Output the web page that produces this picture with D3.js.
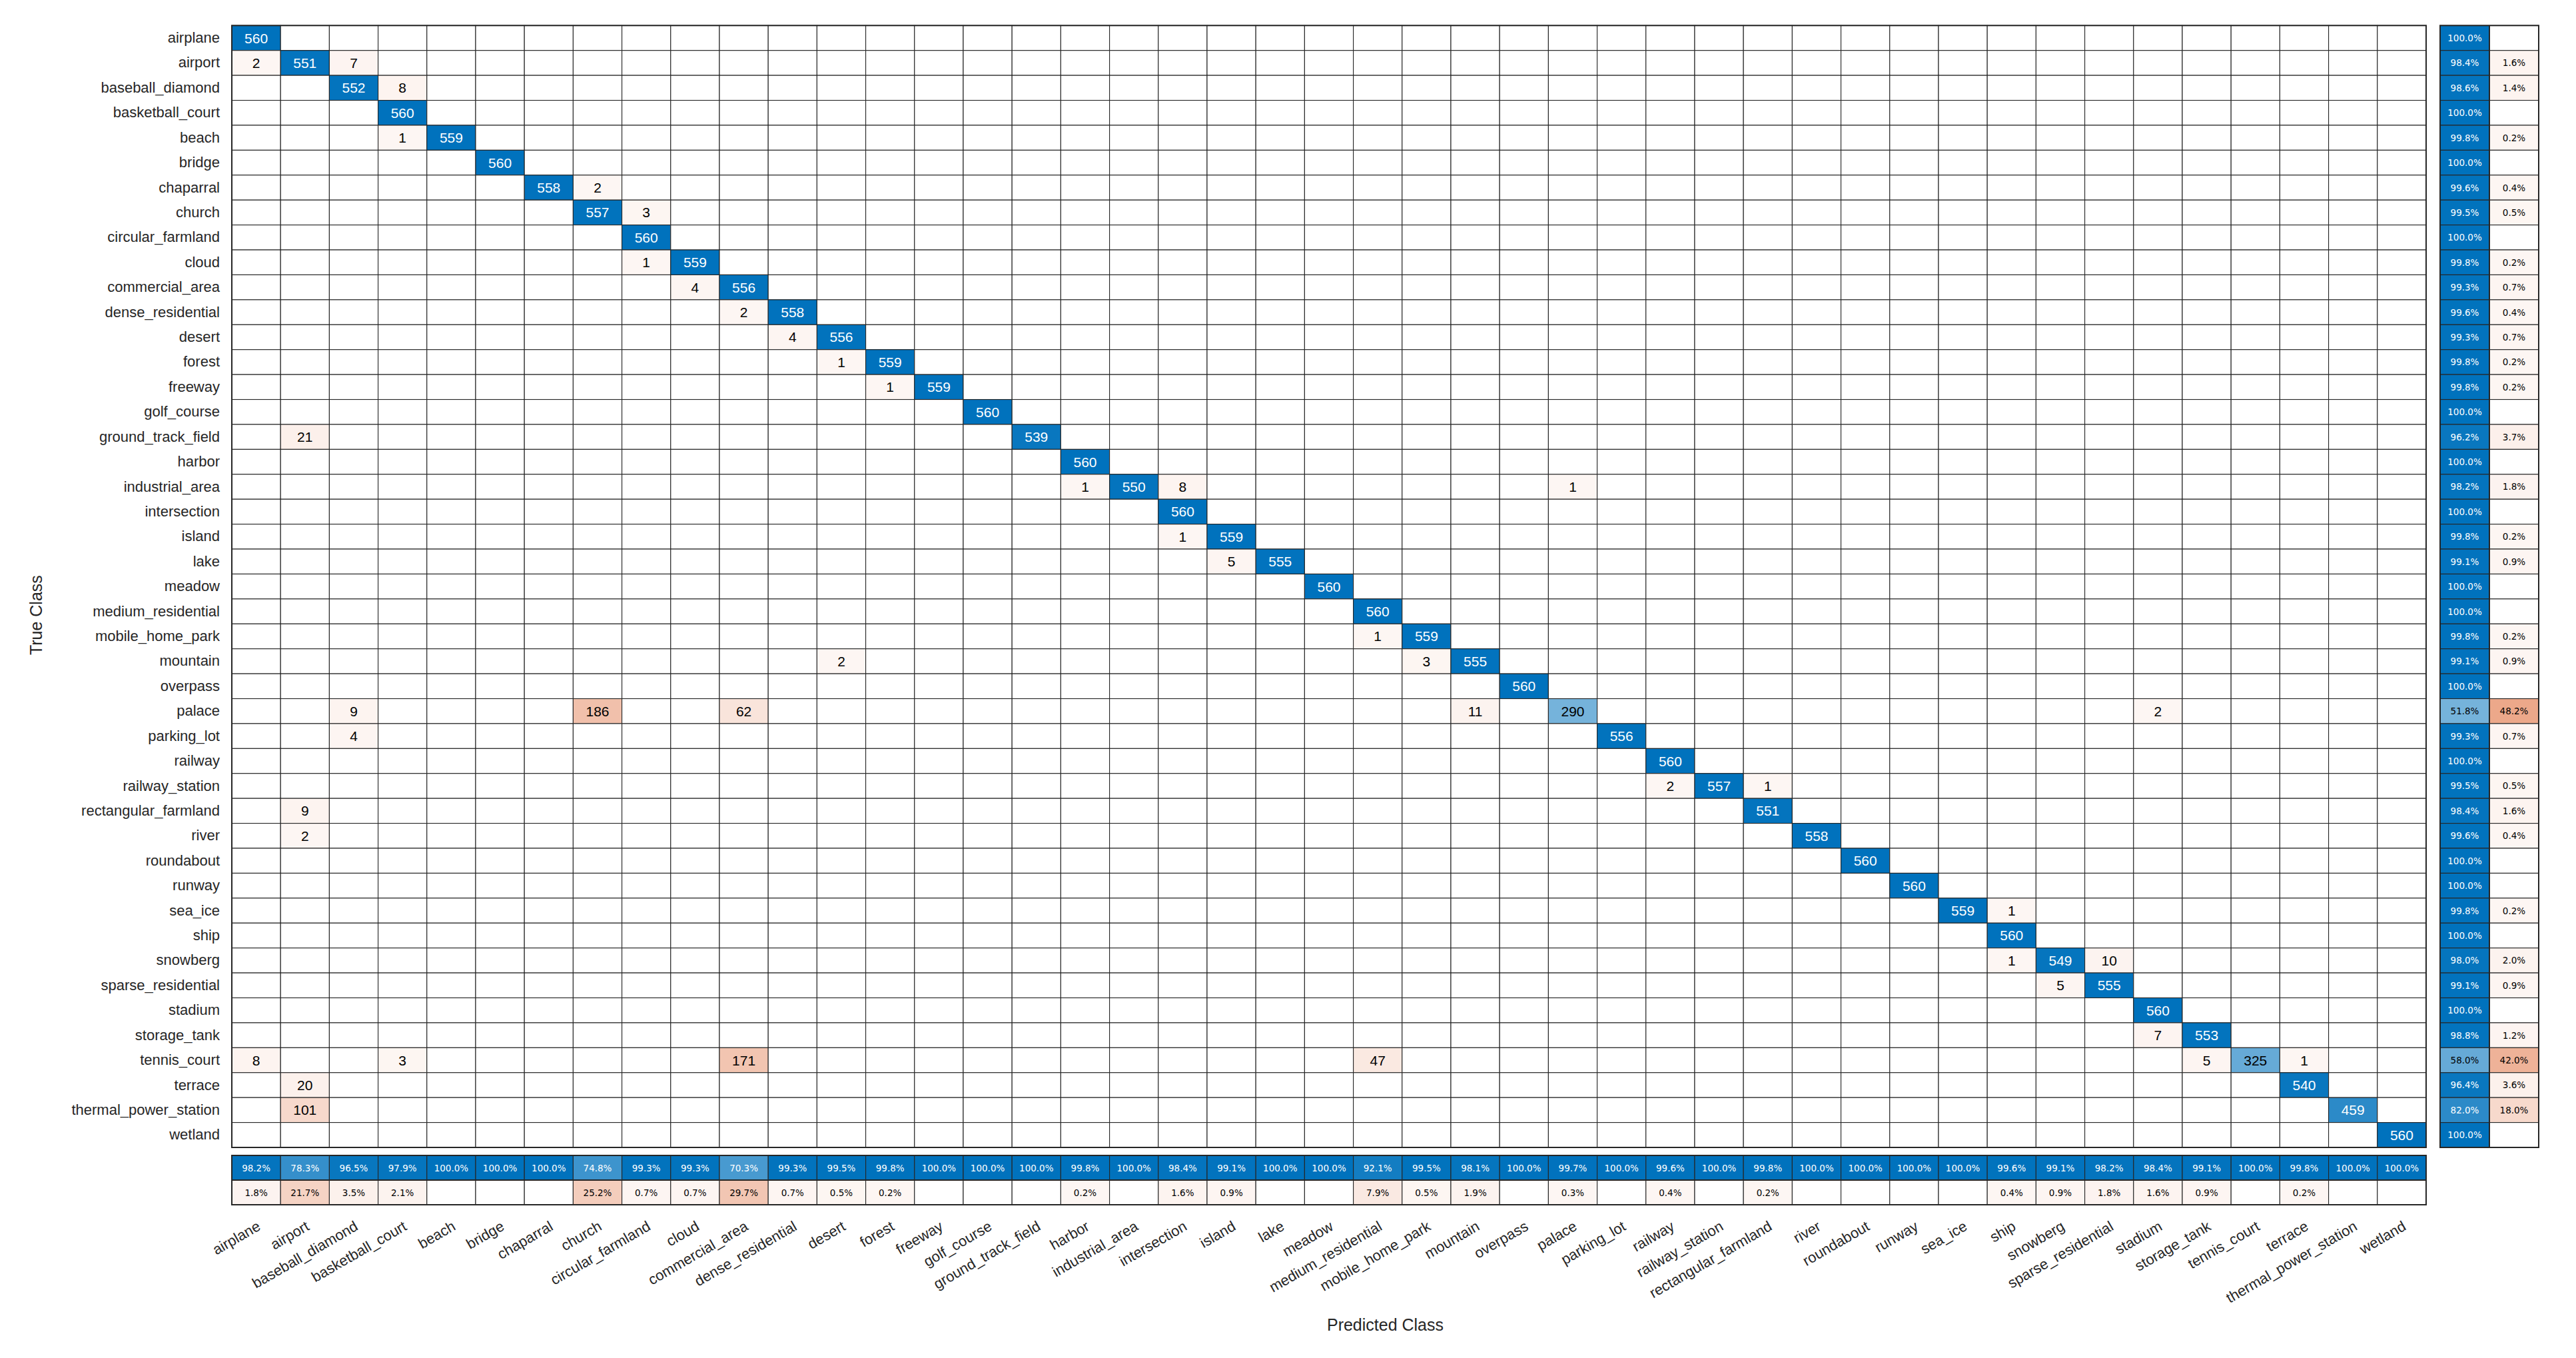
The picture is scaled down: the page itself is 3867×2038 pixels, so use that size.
<!DOCTYPE html>
<html>
<head>
<meta charset="utf-8">
<script src="https://cdn.jsdelivr.net/npm/d3@7"></script>
<style>
  html, body { margin: 0; padding: 0; background: #ffffff; }
  svg { display: block; }
  text { font-family: "Liberation Sans", Arial, Helvetica, sans-serif; }
</style>
</head>
<body>
<svg id="chart" width="3867" height="2038"></svg>
<script>
// ---------------- DATA ----------------
const classes = [
  "airplane","airport","baseball_diamond","basketball_court","beach","bridge","chaparral",
  "church","circular_farmland","cloud","commercial_area","dense_residential","desert",
  "forest","freeway","golf_course","ground_track_field","harbor","industrial_area",
  "intersection","island","lake","meadow","medium_residential","mobile_home_park",
  "mountain","overpass","palace","parking_lot","railway","railway_station",
  "rectangular_farmland","river","roundabout","runway","sea_ice","ship","snowberg",
  "sparse_residential","stadium","storage_tank","tennis_court","terrace",
  "thermal_power_station","wetland"
];

// correct predictions (diagonal), in class order
const diagCounts = [
  560,551,552,560,559,560,558,557,560,559,556,558,556,559,559,560,539,560,550,560,
  559,555,560,560,559,555,560,290,556,560,557,551,558,560,560,559,560,549,555,560,
  553,325,540,459,560
];

// misclassifications: [true class, predicted class, count]
const offDiagonal = [
  ["airport","airplane",2], ["airport","baseball_diamond",7],
  ["baseball_diamond","basketball_court",8],
  ["beach","basketball_court",1],
  ["chaparral","church",2],
  ["church","circular_farmland",3],
  ["cloud","circular_farmland",1],
  ["commercial_area","cloud",4],
  ["dense_residential","commercial_area",2],
  ["desert","dense_residential",4],
  ["forest","desert",1],
  ["freeway","forest",1],
  ["ground_track_field","airport",21],
  ["industrial_area","harbor",1], ["industrial_area","intersection",8], ["industrial_area","palace",1],
  ["island","intersection",1],
  ["lake","island",5],
  ["mobile_home_park","medium_residential",1],
  ["mountain","desert",2], ["mountain","mobile_home_park",3],
  ["palace","baseball_diamond",9], ["palace","church",186], ["palace","commercial_area",62],
  ["palace","mountain",11], ["palace","stadium",2],
  ["parking_lot","baseball_diamond",4],
  ["railway_station","railway",2], ["railway_station","rectangular_farmland",1],
  ["rectangular_farmland","airport",9],
  ["river","airport",2],
  ["sea_ice","ship",1],
  ["snowberg","ship",1], ["snowberg","sparse_residential",10],
  ["sparse_residential","snowberg",5],
  ["storage_tank","stadium",7],
  ["tennis_court","airplane",8], ["tennis_court","basketball_court",3],
  ["tennis_court","commercial_area",171], ["tennis_court","medium_residential",47],
  ["tennis_court","storage_tank",5], ["tennis_court","terrace",1],
  ["terrace","airport",20],
  ["thermal_power_station","airport",101]
];

// row summary (per true class), percent
const rowCorrectPct = [
  100.0,98.4,98.6,100.0,99.8,100.0,99.6,99.5,100.0,99.8,99.3,99.6,99.3,99.8,99.8,100.0,
  96.2,100.0,98.2,100.0,99.8,99.1,100.0,100.0,99.8,99.1,100.0,51.8,99.3,100.0,99.5,98.4,
  99.6,100.0,100.0,99.8,100.0,98.0,99.1,100.0,98.8,58.0,96.4,82.0,100.0
];
const rowIncorrectPct = [
  0,1.6,1.4,0,0.2,0,0.4,0.5,0,0.2,0.7,0.4,0.7,0.2,0.2,0,
  3.7,0,1.8,0,0.2,0.9,0,0,0.2,0.9,0,48.2,0.7,0,0.5,1.6,
  0.4,0,0,0.2,0,2.0,0.9,0,1.2,42.0,3.6,18.0,0
];
// column summary (per predicted class), percent
const colCorrectPct = [
  98.2,78.3,96.5,97.9,100.0,100.0,100.0,74.8,99.3,99.3,70.3,99.3,99.5,99.8,100.0,100.0,
  100.0,99.8,100.0,98.4,99.1,100.0,100.0,92.1,99.5,98.1,100.0,99.7,100.0,99.6,100.0,99.8,
  100.0,100.0,100.0,100.0,99.6,99.1,98.2,98.4,99.1,100.0,99.8,100.0,100.0
];
const colIncorrectPct = [
  1.8,21.7,3.5,2.1,0,0,0,25.2,0.7,0.7,29.7,0.7,0.5,0.2,0,0,
  0,0.2,0,1.6,0.9,0,0,7.9,0.5,1.9,0,0.3,0,0.4,0,0.2,
  0,0,0,0,0.4,0.9,1.8,1.6,0.9,0,0.2,0,0
];

const summaryKinds = ["correct","incorrect"];
const xAxisTitle = "Predicted Class";
const yAxisTitle = "True Class";

// ---------------- BUILD MATRIX ----------------
const n = classes.length;
const idx = new Map(classes.map((c,i)=>[c,i]));
const M = classes.map(()=>classes.map(()=>0));
diagCounts.forEach((v,i)=>{ M[i][i] = v; });
offDiagonal.forEach(([t,p,v])=>{ M[idx.get(t)][idx.get(p)] = v; });

const cells = [];
for (let r=0;r<n;r++) for (let c=0;c<n;c++) cells.push({r, c, v: M[r][c], diag: r===c});
const maxCount = d3.max(cells, d=>d.v);

const rowSummary = [];
classes.forEach((cls,i)=>{
  rowSummary.push({cls, kind:"correct", v:rowCorrectPct[i]});
  rowSummary.push({cls, kind:"incorrect", v:rowIncorrectPct[i]});
});
const colSummary = [];
classes.forEach((cls,i)=>{
  colSummary.push({cls, kind:"correct", v:colCorrectPct[i]});
  colSummary.push({cls, kind:"incorrect", v:colIncorrectPct[i]});
});

// ---------------- LAYOUT / STYLE ----------------
const L = 348, R = 3642, T = 38.3, B = 1722;
const RS_L = 3663, RS_R = 3811;     // row summary
const CS_T = 1734, CS_B = 1808;     // column summary
const diagRGB = [0,114,189], offRGB = [217,83,25];
const lineColor = "#262626";
const textDark = "#262626";

function shade(base, frac){
  if (frac <= 0) return "#ffffff";
  const a = 0.05 + 0.95*frac;
  const c = base.map(b => Math.round(255 - a*(255-b)));
  return `rgb(${c[0]},${c[1]},${c[2]})`;
}
function textCol(frac){ return (0.05+0.95*frac) > 0.7 ? "#ffffff" : "#000000"; }

const svg = d3.select("#chart");

const x = d3.scaleBand().domain(classes).range([L, R]);
const y = d3.scaleBand().domain(classes).range([T, B]);
const xs = d3.scaleBand().domain(summaryKinds).range([RS_L, RS_R]);
const ys = d3.scaleBand().domain(summaryKinds).range([CS_T, CS_B]);

// ---------------- MATRIX ----------------
const gM = svg.append("g");
gM.selectAll("rect").data(cells).join("rect")
  .attr("x", d=>x(classes[d.c])).attr("y", d=>y(classes[d.r]))
  .attr("width", x.bandwidth()).attr("height", y.bandwidth())
  .attr("fill", d=>shade(d.diag?diagRGB:offRGB, d.v/maxCount))
  .attr("stroke", lineColor).attr("stroke-width", 1.1);
gM.selectAll("text").data(cells.filter(d=>d.v>0)).join("text")
  .attr("x", d=>x(classes[d.c]) + x.bandwidth()/2)
  .attr("y", d=>y(classes[d.r]) + y.bandwidth()/2)
  .attr("text-anchor","middle").attr("dominant-baseline","central")
  .attr("font-size", 21)
  .attr("fill", d=>textCol(d.v/maxCount))
  .text(d=>d.v);
gM.append("rect").attr("x",L).attr("y",T).attr("width",R-L).attr("height",B-T)
  .attr("fill","none").attr("stroke",lineColor).attr("stroke-width",2);

const fmt = v => d3.format(".1f")(v) + "%";

// ---------------- ROW SUMMARY ----------------
const gR = svg.append("g");
gR.selectAll("rect").data(rowSummary).join("rect")
  .attr("x", d=>xs(d.kind)).attr("y", d=>y(d.cls))
  .attr("width", xs.bandwidth()).attr("height", y.bandwidth())
  .attr("fill", d=>shade(d.kind==="correct"?diagRGB:offRGB, d.v/100))
  .attr("stroke", lineColor).attr("stroke-width", 1.1);
gR.selectAll("text").data(rowSummary.filter(d=>d.v>0)).join("text")
  .attr("x", d=>xs(d.kind)+xs.bandwidth()/2)
  .attr("y", d=>y(d.cls)+y.bandwidth()/2)
  .attr("text-anchor","middle").attr("dominant-baseline","central")
  .attr("font-size", 13.5).style("font-family","'DejaVu Sans', sans-serif")
  .attr("fill", d=>textCol(d.v/100))
  .text(d=>fmt(d.v));
gR.append("rect").attr("x",RS_L).attr("y",T).attr("width",RS_R-RS_L).attr("height",B-T)
  .attr("fill","none").attr("stroke",lineColor).attr("stroke-width",2);
gR.append("line").attr("x1",xs("incorrect")).attr("x2",xs("incorrect"))
  .attr("y1",T).attr("y2",B).attr("stroke",lineColor).attr("stroke-width",2);

// ---------------- COLUMN SUMMARY ----------------
const gC = svg.append("g");
gC.selectAll("rect").data(colSummary).join("rect")
  .attr("x", d=>x(d.cls)).attr("y", d=>ys(d.kind))
  .attr("width", x.bandwidth()).attr("height", ys.bandwidth())
  .attr("fill", d=>shade(d.kind==="correct"?diagRGB:offRGB, d.v/100))
  .attr("stroke", lineColor).attr("stroke-width", 1.1);
gC.selectAll("text").data(colSummary.filter(d=>d.v>0)).join("text")
  .attr("x", d=>x(d.cls)+x.bandwidth()/2)
  .attr("y", d=>ys(d.kind)+ys.bandwidth()/2)
  .attr("text-anchor","middle").attr("dominant-baseline","central")
  .attr("font-size", 13.5).style("font-family","'DejaVu Sans', sans-serif")
  .attr("fill", d=>textCol(d.v/100))
  .text(d=>fmt(d.v));
gC.append("rect").attr("x",L).attr("y",CS_T).attr("width",R-L).attr("height",CS_B-CS_T)
  .attr("fill","none").attr("stroke",lineColor).attr("stroke-width",2);
gC.append("line").attr("x1",L).attr("x2",R)
  .attr("y1",ys("incorrect")).attr("y2",ys("incorrect")).attr("stroke",lineColor).attr("stroke-width",2);

// ---------------- AXES ----------------
const yAxis = svg.append("g").attr("transform",`translate(${L},0)`)
  .call(d3.axisLeft(y).tickSize(0).tickPadding(18));
yAxis.select(".domain").remove();
yAxis.selectAll("text").attr("font-size",22).attr("fill",textDark)
  .style("font-family","'Liberation Sans', Arial, sans-serif");

const xAxis = svg.append("g").attr("transform",`translate(0,${CS_B})`)
  .call(d3.axisBottom(x).tickSize(0));
xAxis.select(".domain").remove();
xAxis.selectAll("text")
  .attr("x",0).attr("y",0).attr("dy","0.72em")
  .attr("text-anchor","end")
  .attr("transform","translate(0,23) rotate(-30)")
  .attr("font-size",22).attr("fill",textDark)
  .style("font-family","'Liberation Sans', Arial, sans-serif");

svg.append("text").attr("x",(L+RS_R)/2).attr("y",1997)
  .attr("text-anchor","middle").attr("font-size",25).attr("fill",textDark)
  .text(xAxisTitle);
svg.append("text").attr("transform",`translate(63,${(T+CS_B)/2}) rotate(-90)`)
  .attr("text-anchor","middle").attr("font-size",25).attr("fill",textDark)
  .text(yAxisTitle);
</script>
</body>
</html>
